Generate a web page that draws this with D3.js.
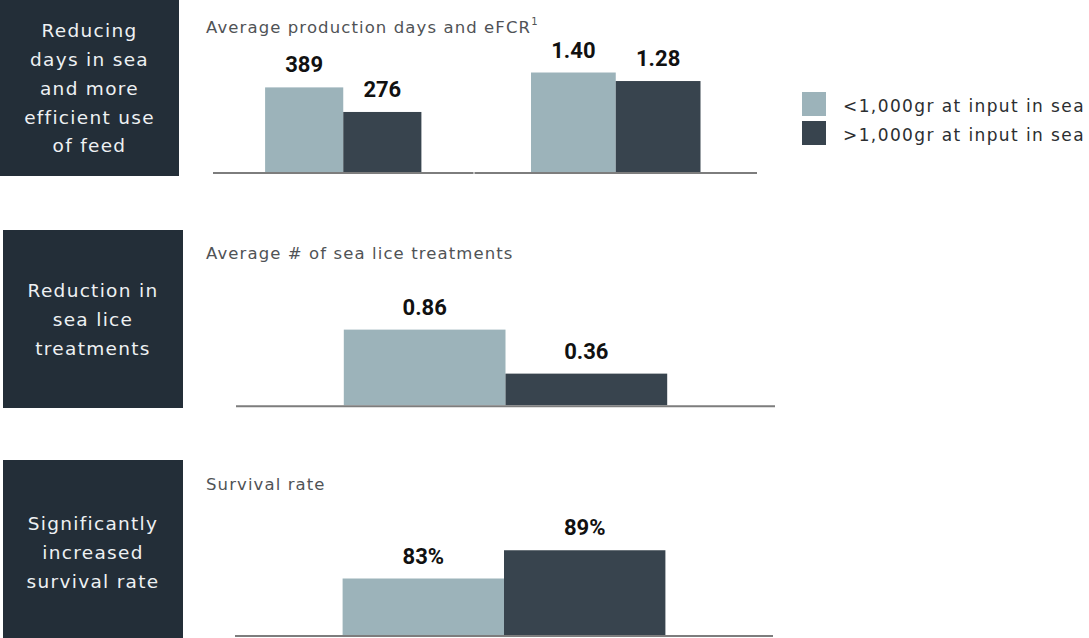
<!DOCTYPE html>
<html>
<head>
<meta charset="utf-8">
<script src="https://cdn.jsdelivr.net/npm/d3@7"></script>
<style>
  html, body { margin: 0; padding: 0; background: #fff; }
  svg { display: block; }
</style>
</head>
<body>
<svg id="chart" width="1089" height="638"></svg>
<script>
// ---- data ----
const series = ["<1,000gr at input in sea", ">1,000gr at input in sea"];
const dayValues = [389, 276];
const efcrValues = [1.40, 1.28];
const liceValues = [0.86, 0.36];
const survivalValues = [83, 89];

const panelTitles = ["Average production days and eFCR", "Average # of sea lice treatments", "Survival rate"];
const titleNote = "1";
const themeLines = [
  ["Reducing", "days in sea", "and more", "efficient use", "of feed"],
  ["Reduction in", "sea lice", "treatments"],
  ["Significantly", "increased", "survival rate"]
];

// ---- styles ----
const colors = ["#9cb3ba", "#38444e"];
const boxColor = "#232e38";
const axisColor = "#7d7d7d";
const lightFont = "'DejaVu Sans', sans-serif";
const boldFont = "Roboto, 'Liberation Sans', sans-serif";

const svg = d3.select("#chart");

// ---- theme boxes on the left ----
const boxes = [
  { x: 0, y: 0, w: 179, h: 176 },
  { x: 3, y: 230, w: 180, h: 178 },
  { x: 3, y: 460, w: 180, h: 185 }
];
const lineH = 28.8, capHalf = 6.7;
boxes.forEach((b, i) => {
  svg.append("rect").attr("x", b.x).attr("y", b.y).attr("width", b.w).attr("height", b.h)
    .attr("fill", boxColor);
  const lines = themeLines[i];
  const cy = b.y + b.h / 2;
  const first = cy - (lines.length - 1) * lineH / 2 + capHalf;
  svg.append("g").selectAll("text").data(lines).join("text")
    .attr("x", b.x + b.w / 2)
    .attr("y", (d, j) => first + j * lineH)
    .attr("text-anchor", "middle")
    .attr("font-family", lightFont)
    .attr("font-size", 18.5)
    .attr("letter-spacing", 1.3)
    .attr("fill", "#eef1f3")
    .text(d => d);
});

// ---- panel titles ----
const titleY = [33, 258.5, 490];
titleY.forEach((y, i) => {
  const t = svg.append("text")
    .attr("x", 206).attr("y", y)
    .attr("font-family", lightFont)
    .attr("font-size", 16.5)
    .attr("letter-spacing", 1.1)
    .attr("fill", "#505356")
    .text(panelTitles[i]);
  if (i === 0) {
    t.append("tspan").attr("dy", -8).attr("font-size", 10).attr("letter-spacing", 0).text(titleNote);
  }
});

// ---- bar panels ----
// Each panel: horizontal extent, baseline, value scale
function drawPanel(values, fmt, x0, x1, base, yScale) {
  const x = d3.scaleBand().domain(d3.range(values.length)).range([x0, x1])
    .paddingInner(0).paddingOuter(2 / 3);
  const g = svg.append("g");
  g.selectAll("rect").data(values).join("rect")
    .attr("x", (d, i) => x(i))
    .attr("width", x.bandwidth())
    .attr("y", d => yScale(d))
    .attr("height", d => base - yScale(d))
    .attr("fill", (d, i) => colors[i]);
  g.selectAll("text").data(values).join("text")
    .attr("x", (d, i) => x(i) + x.bandwidth() / 2)
    .attr("y", d => yScale(d) - 15)
    .attr("text-anchor", "middle")
    .attr("font-family", boldFont)
    .attr("font-weight", 700)
    .attr("font-size", 22)
    .attr("fill", "#111")
    .text(fmt);
  g.append("line")
    .attr("x1", x0).attr("x2", x1)
    .attr("y1", base + 1).attr("y2", base + 1)
    .attr("stroke", axisColor).attr("stroke-width", 2);
}

// production days
const base1 = 172;
const yDays = d3.scaleLinear().domain([0, 400]).range([base1, base1 - 87]);
drawPanel(dayValues, d3.format("d"), 213, 473.5, base1, yDays);
// eFCR
const yFcr = d3.scaleLinear().domain([0, 1.5]).range([base1, base1 - 106.6]);
drawPanel(efcrValues, d3.format(".2f"), 474.5, 757, base1, yFcr);

// sea lice treatments
const base2 = 405.3;
const yLice = d3.scaleLinear().domain([0, 1]).range([base2, base2 - 88]);
drawPanel(liceValues, d3.format(".2f"), 236, 775, base2, yLice);

// survival rate
const base3 = 635;
const ySurv = d3.scaleLinear().domain([71, 95]).range([base3, base3 - 113]);
drawPanel(survivalValues, d => d + "%", 235, 773, base3, ySurv);

// ---- legend ----
const legend = svg.append("g").attr("transform", "translate(802,92)");
series.forEach((s, i) => {
  legend.append("rect").attr("x", 0).attr("y", i * 29).attr("width", 24).attr("height", 24)
    .attr("fill", colors[i]);
  legend.append("text").attr("x", 41).attr("y", i * 29 + 20)
    .attr("font-family", lightFont)
    .attr("font-size", 17)
    .attr("letter-spacing", 1.4)
    .attr("fill", "#2b2e31")
    .text(s);
});
</script>
</body>
</html>
